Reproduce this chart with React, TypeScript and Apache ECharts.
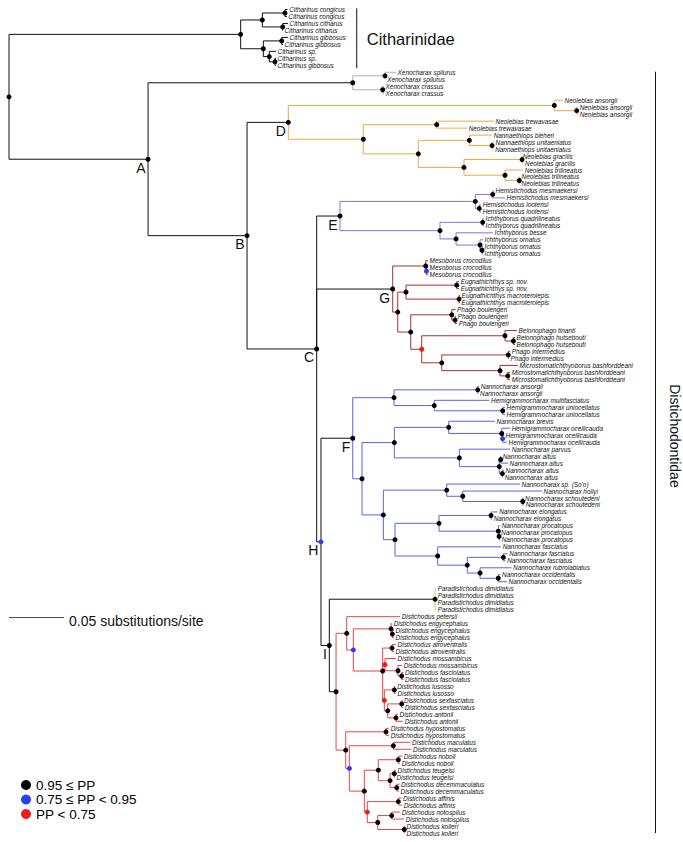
import React, { useEffect, useRef } from "react";
import * as echarts from "echarts";

const FONT = "'Liberation Sans', Arial, Helvetica, sans-serif";

// ---- tree data (depth in substitutions/site from the root) ----
// internal nodes: [id, parent, depth, support class]
const internalNodes: [string, string, number, string][] = [
  ["root", "", 0, "hi"],
  ["cit", "root", 0.2106, "hi"],
  ["cit1", "cit", 0.2303, "hi"],
  ["citCong", "cit1", 0.2509, "hi"],
  ["citCith", "cit1", 0.2488, "hi"],
  ["cit2", "cit", 0.2312, "hi"],
  ["citGibb", "cit2", 0.2479, "hi"],
  ["citSp", "cit2", 0.2366, "hi"],
  ["citSp2", "citSp", 0.2418, "hi"],
  ["A", "root", 0.1264, "hi"],
  ["xeno", "A", 0.3125, "hi"],
  ["xenoSpil", "xeno", 0.3418, "hi"],
  ["xenoCras", "xeno", 0.3397, "hi"],
  ["B", "A", 0.2164, "hi"],
  ["D", "B", 0.2539, "hi"],
  ["neoAns", "D", 0.4957, "hi"],
  ["neoAns2", "neoAns", 0.5161, "hi"],
  ["D2", "D", 0.3221, "hi"],
  ["neoTrew", "D2", 0.3888, "hi"],
  ["D3", "D2", 0.3721, "hi"],
  ["nanna", "D3", 0.4185, "hi"],
  ["nannaUni", "nanna", 0.4391, "hi"],
  ["D4", "D3", 0.4136, "hi"],
  ["neoGrac", "D4", 0.4664, "hi"],
  ["neoTril", "D4", 0.4509, "hi"],
  ["neoTril2", "neoTril", 0.4639, "hi"],
  ["C", "B", 0.2797, "hi"],
  ["E", "C", 0.3009, "hi"],
  ["hemi", "E", 0.4239, "hi"],
  ["hemiMes", "hemi", 0.4397, "hi"],
  ["hemiLoo", "hemi", 0.4275, "hi"],
  ["ichth", "E", 0.3918, "hi"],
  ["ichthQuad", "ichth", 0.4306, "hi"],
  ["ichth2", "ichth", 0.4064, "hi"],
  ["ichthOrn", "ichth2", 0.4282, "hi"],
  ["ichthOrn2", "ichthOrn", 0.43, "hi"],
  ["G", "C", 0.3488, "hi"],
  ["meso", "G", 0.3788, "hi"],
  ["meso2", "meso", 0.3795, "mid"],
  ["G2", "G", 0.3534, "hi"],
  ["eug", "G2", 0.3609, "hi"],
  ["eugSp", "eug", 0.407, "hi"],
  ["eugMac", "eug", 0.4091, "hi"],
  ["G3", "G2", 0.3652, "hi"],
  ["phagoB", "G3", 0.4025, "hi"],
  ["phagoB2", "phagoB", 0.4055, "hi"],
  ["G4", "G3", 0.3752, "lo"],
  ["belo", "G4", 0.4509, "hi"],
  ["belo2", "belo", 0.4585, "hi"],
  ["G5", "G4", 0.3934, "hi"],
  ["phagoI", "G5", 0.4539, "hi"],
  ["micro", "G5", 0.4464, "hi"],
  ["micro2", "micro", 0.4534, "hi"],
  ["H", "C", 0.2836, "mid"],
  ["F", "H", 0.3125, "hi"],
  ["F1", "F", 0.35, "hi"],
  ["nanAns", "F1", 0.4261, "hi"],
  ["F1b", "F1", 0.3866, "hi"],
  ["hemUni", "F1b", 0.4488, "hi"],
  ["F2", "F", 0.3209, "hi"],
  ["F3", "F2", 0.3503, "hi"],
  ["F3a", "F3", 0.3997, "hi"],
  ["hemOce", "F3a", 0.4479, "hi"],
  ["hemOce2", "hemOce", 0.4487, "mid"],
  ["F3b", "F3", 0.4094, "hi"],
  ["alt", "F3b", 0.4457, "hi"],
  ["alt1", "alt", 0.447, "hi"],
  ["alt2", "alt", 0.4485, "hi"],
  ["F4", "F2", 0.3403, "hi"],
  ["F5", "F4", 0.3979, "hi"],
  ["F5b", "F5", 0.4125, "hi"],
  ["schout", "F5b", 0.467, "hi"],
  ["F6", "F4", 0.3509, "hi"],
  ["F6a", "F6", 0.3909, "hi"],
  ["elong", "F6a", 0.4382, "hi"],
  ["proc", "F6a", 0.4448, "hi"],
  ["proc2", "proc", 0.4455, "hi"],
  ["F6b", "F6", 0.3897, "hi"],
  ["F6c", "F6b", 0.4166, "hi"],
  ["fasc", "F6c", 0.4494, "hi"],
  ["F6d", "F6c", 0.4282, "hi"],
  ["occ", "F6d", 0.4448, "hi"],
  ["I", "H", 0.2912, "hi"],
  ["para", "I", 0.3873, "hi"],
  ["I2", "I", 0.2973, "hi"],
  ["DA", "I2", 0.307, "hi"],
  ["DA2", "DA", 0.313, "mid"],
  ["engy", "DA2", 0.3473, "hi"],
  ["engy2", "engy", 0.3485, "hi"],
  ["DA3", "DA2", 0.3397, "hi"],
  ["atro", "DA3", 0.3482, "hi"],
  ["X1", "DA3", 0.3418, "lo"],
  ["mossF", "X1", 0.3536, "hi"],
  ["fasciol", "mossF", 0.357, "hi"],
  ["X2", "DA3", 0.3412, "lo"],
  ["luso", "X2", 0.3503, "hi"],
  ["sexAnt", "X2", 0.3443, "hi"],
  ["sexf", "sexAnt", 0.357, "hi"],
  ["anto", "sexAnt", 0.3518, "hi"],
  ["DB", "I2", 0.3061, "hi"],
  ["hypo", "DB", 0.3427, "hi"],
  ["DB2", "DB", 0.3094, "mid"],
  ["macu", "DB2", 0.3494, "hi"],
  ["DB3", "DB2", 0.323, "hi"],
  ["DB4", "DB3", 0.3357, "hi"],
  ["nobo", "DB4", 0.3539, "hi"],
  ["DB4b", "DB4", 0.3464, "hi"],
  ["teug", "DB4b", 0.3503, "hi"],
  ["decem", "DB4b", 0.3525, "hi"],
  ["DB5", "DB3", 0.3257, "lo"],
  ["affi", "DB5", 0.3539, "hi"],
  ["DB6", "DB5", 0.3352, "hi"],
  ["noto", "DB6", 0.3479, "hi"],
  ["koll", "DB6", 0.3594, "hi"],
];

// leaves in plotting order: [name, parent, tip depth]
const leaves: [string, string, number][] = [
  ["Citharinus congicus", "citCong", 0.2532],
  ["Citharinus congicus", "citCong", 0.2527],
  ["Citharinus citharus", "citCith", 0.2536],
  ["Citharinus citharus", "citCith", 0.2491],
  ["Citharinus gibbosus", "citGibb", 0.2536],
  ["Citharinus gibbosus", "citGibb", 0.2491],
  ["Citharinus sp.", "citSp", 0.2427],
  ["Citharinus sp.", "citSp2", 0.2427],
  ["Citharinus gibbosus", "citSp2", 0.2427],
  ["Xenocharax spilurus", "xenoSpil", 0.3518],
  ["Xenocharax spilurus", "xenoSpil", 0.3423],
  ["Xenocharax crassus", "xenoCras", 0.3409],
  ["Xenocharax crassus", "xenoCras", 0.3409],
  ["Neolebias ansorgii", "neoAns", 0.5036],
  ["Neolebias ansorgii", "neoAns2", 0.5173],
  ["Neolebias ansorgii", "neoAns2", 0.5173],
  ["Neolebias trewavasae", "neoTrew", 0.4409],
  ["Neolebias trewavasae", "neoTrew", 0.4164],
  ["Nannaethiops bleheri", "nanna", 0.4391],
  ["Nannaethiops unitaeniatus", "nannaUni", 0.4409],
  ["Nannaethiops unitaeniatus", "nannaUni", 0.4405],
  ["Neolebias gracilis", "neoGrac", 0.4655],
  ["Neolebias gracilis", "neoGrac", 0.4677],
  ["Neolebias trilineatus", "neoTril", 0.4673],
  ["Neolebias trilineatus", "neoTril2", 0.4645],
  ["Neolebias trilineatus", "neoTril2", 0.4645],
  ["Hemistichodus mesmaekersi", "hemiMes", 0.4409],
  ["Hemistichodus mesmaekersi", "hemiMes", 0.4509],
  ["Hemistichodus lootensi", "hemiLoo", 0.4291],
  ["Hemistichodus lootensi", "hemiLoo", 0.4291],
  ["Ichthyborus quadrilineatus", "ichthQuad", 0.4318],
  ["Ichthyborus quadrilineatus", "ichthQuad", 0.4318],
  ["Ichthyborus besse", "ichth2", 0.44],
  ["Ichthyborus ornatus", "ichthOrn", 0.4309],
  ["Ichthyborus ornatus", "ichthOrn2", 0.4309],
  ["Ichthyborus ornatus", "ichthOrn2", 0.4309],
  ["Mesoborus crocodilus", "meso", 0.3809],
  ["Mesoborus crocodilus", "meso2", 0.3809],
  ["Mesoborus crocodilus", "meso2", 0.3809],
  ["Eugnathichthys sp. nov.", "eugSp", 0.4091],
  ["Eugnathichthys sp. nov.", "eugSp", 0.4091],
  ["Eugnathichthys macroterolepis", "eugMac", 0.41],
  ["Eugnathichthys macroterolepis", "eugMac", 0.41],
  ["Phago boulengeri", "phagoB", 0.4059],
  ["Phago boulengeri", "phagoB2", 0.4064],
  ["Phago boulengeri", "phagoB2", 0.4073],
  ["Belonophago tinanti", "belo", 0.4618],
  ["Belonophago hutsebouti", "belo2", 0.46],
  ["Belonophago hutsebouti", "belo2", 0.46],
  ["Phago intermedius", "phagoI", 0.4555],
  ["Phago intermedius", "phagoI", 0.4545],
  ["Microstomatichthyoborus bashforddeani", "micro", 0.4627],
  ["Microstomatichthyoborus bashforddeani", "micro2", 0.4555],
  ["Microstomatichthyoborus bashforddeani", "micro2", 0.4555],
  ["Nannocharax ansorgii", "nanAns", 0.4273],
  ["Nannocharax ansorgii", "nanAns", 0.4268],
  ["Hemigrammocharax multifasciatus", "F1b", 0.4368],
  ["Hemigrammocharax uniocellatus", "hemUni", 0.4509],
  ["Hemigrammocharax uniocellatus", "hemUni", 0.4509],
  ["Nannocharax brevis", "F3a", 0.4418],
  ["Hemigrammocharax ocellicauda", "hemOce", 0.4555],
  ["Hemigrammocharax ocellicauda", "hemOce2", 0.45],
  ["Hemigrammocharax ocellicauda", "hemOce2", 0.4527],
  ["Nannocharax parvus", "F3b", 0.4555],
  ["Nannocharax altus", "alt1", 0.4473],
  ["Nannocharax altus", "alt1", 0.4536],
  ["Nannocharax altus", "alt2", 0.45],
  ["Nannocharax altus", "alt2", 0.4491],
  ["Nannocharax sp. (So'o)", "F5", 0.4645],
  ["Nannocharax hollyi", "F5b", 0.4845],
  ["Nannocharax schoutedeni", "schout", 0.4677],
  ["Nannocharax schoutedeni", "schout", 0.4682],
  ["Nannocharax elongatus", "elong", 0.4441],
  ["Nannocharax elongatus", "elong", 0.4391],
  ["Nannocharax procatopus", "proc", 0.4464],
  ["Nannocharax procatopus", "proc2", 0.4459],
  ["Nannocharax procatopus", "proc2", 0.4464],
  ["Nannocharax fasciatus", "F6b", 0.4473],
  ["Nannocharax fasciatus", "fasc", 0.4532],
  ["Nannocharax fasciatus", "fasc", 0.4514],
  ["Nannocharax rubrolabiatus", "F6d", 0.4568],
  ["Nannocharax occidentalis", "occ", 0.4468],
  ["Nannocharax occidentalis", "occ", 0.4527],
  ["Paradistichodus dimidiatus", "para", 0.3882],
  ["Paradistichodus dimidiatus", "para", 0.3882],
  ["Paradistichodus dimidiatus", "para", 0.3882],
  ["Paradistichodus dimidiatus", "para", 0.3882],
  ["Distichodus petersii", "DA", 0.3555],
  ["Distichodus engycephalus", "engy", 0.3482],
  ["Distichodus engycephalus", "engy2", 0.35],
  ["Distichodus engycephalus", "engy2", 0.35],
  ["Distichodus atroventralis", "atro", 0.3518],
  ["Distichodus atroventralis", "atro", 0.35],
  ["Distichodus mossambicus", "X1", 0.3518],
  ["Distichodus mossambicus", "mossF", 0.3573],
  ["Distichodus fasciolatus", "fasciol", 0.3586],
  ["Distichodus fasciolatus", "fasciol", 0.3586],
  ["Distichodus lusosso", "luso", 0.3514],
  ["Distichodus lusosso", "luso", 0.3518],
  ["Distichodus sexfasciatus", "sexf", 0.3577],
  ["Distichodus sexfasciatus", "sexf", 0.3582],
  ["Distichodus antonii", "anto", 0.3536],
  ["Distichodus antonii", "anto", 0.3582],
  ["Distichodus hypostomatus", "hypo", 0.3455],
  ["Distichodus hypostomatus", "hypo", 0.3455],
  ["Distichodus maculatus", "macu", 0.365],
  ["Distichodus maculatus", "macu", 0.3659],
  ["Distichodus noboli", "nobo", 0.3573],
  ["Distichodus noboli", "nobo", 0.3555],
  ["Distichodus teugelsi", "teug", 0.3518],
  ["Distichodus teugelsi", "teug", 0.3509],
  ["Distichodus decemmaculatus", "decem", 0.355],
  ["Distichodus decemmaculatus", "decem", 0.3545],
  ["Distichodus affinis", "affi", 0.3568],
  ["Distichodus affinis", "affi", 0.3573],
  ["Distichodus notospilus", "noto", 0.3555],
  ["Distichodus notospilus", "noto", 0.3591],
  ["Distichodus kolleri", "koll", 0.36],
  ["Distichodus kolleri", "koll", 0.36],
];

// clade colouring (applies to all branches below the clade node)
const cladeColors: [string, string][] = [
  ["xeno", "#aab3b3"],
  ["D", "#f5a640"],
  ["E", "#8a6fe2"],
  ["G", "#a8302e"],
  ["F", "#5467de"],
  ["para", "#9fe56f"],
  ["I2", "#e84646"],
];
const backboneColor = "#111111";

// labelled clade nodes
const cladeLetters: string[] = ["A", "B", "C", "D", "E", "F", "G", "H", "I"];

// support classes
const supportClasses: string[] = ["hi", "mid", "lo"];
const supportNames: string[] = ["0.95 \u2264 PP", "0.75 \u2264 PP < 0.95", "PP < 0.75"];
const supportColors: string[] = ["#000000", "#2b3ef2", "#f01a1a"];

// family brackets: [name, x (subst.), first leaf idx, last leaf idx, label y idx, rotated]
const families: [string, number, number, number, number, number][] = [
  ["Citharinidae", 0.3161, -0.17, 8.42, 4.2, 0],
  ["Distichodontidae", 0.5877, 8.91, 118, 61.1, 1],
];

// scale bar: [start, length, y position (leaf idx)]
const scaleBar: number[] = [0, 0.05, 87.13];
const scaleLabel = "0.05 substitutions/site";

function buildTree() {
  const children: Record<string, { leaf: boolean; key: any }[]> = {};
  const depth: Record<string, number> = {};
  const parentOf: Record<string, string> = {};
  const support: Record<string, string> = {};
  internalNodes.forEach(([id, p, d, s]) => {
    children[id] = [];
    depth[id] = d;
    parentOf[id] = p;
    support[id] = s;
  });
  internalNodes.forEach(([id, p]) => {
    if (p) children[p].push({ leaf: false, key: id });
  });
  leaves.forEach(([, p], i) => children[p].push({ leaf: true, key: i }));
  const y: Record<string, number> = {};
  const getY = (id: string): number => {
    if (y[id] !== undefined) return y[id];
    const ch = children[id];
    const v = ch.reduce((s, c) => s + (c.leaf ? (c.key as number) : getY(c.key as string)), 0) / ch.length;
    y[id] = v;
    return v;
  };
  internalNodes.forEach(([id]) => getY(id));
  const cmap: Record<string, string> = Object.fromEntries(cladeColors);
  const colorOf = (id: string): string =>
    cmap[id] !== undefined ? cmap[id] : parentOf[id] ? colorOf(parentOf[id]) : backboneColor;
  const palette: string[] = [backboneColor, ...cladeColors.map((c) => c[1])];
  const branches: number[][] = [];
  internalNodes.forEach(([id, p]) => {
    if (!p) return;
    branches.push([depth[p], y[p], depth[id], y[id], palette.indexOf(colorOf(p))]);
  });
  leaves.forEach(([, p, d], i) => {
    branches.push([depth[p], y[p], d, i, palette.indexOf(colorOf(p))]);
  });
  branches.sort((a, b) => (a[4] === 0 ? 0 : 1) - (b[4] === 0 ? 0 : 1));
  return { depth, y, support, palette, branches };
}

export default function App() {
  const ref = useRef<HTMLDivElement>(null);
  useEffect(() => {
    if (!ref.current) return;
    const chart = echarts.init(ref.current, undefined, { renderer: "svg" });
    const { depth, y, support, palette, branches } = buildTree();

    const nodeSeries = supportClasses.map((cls, k) => ({
      type: "scatter",
      name: supportNames[k],
      symbol: "circle",
      symbolSize: 5,
      z: 5,
      silent: true,
      itemStyle: { color: supportColors[k], opacity: 1 },
      data: internalNodes.filter(([id]) => support[id] === cls).map(([id]) => [depth[id], y[id]]),
    }));

    chart.setOption({
      animation: false,
      textStyle: { fontFamily: FONT },
      grid: { left: 9, top: 9.5, width: 674, height: 823.5 },
      xAxis: { type: "value", min: 0, max: 0.6127, show: false },
      yAxis: { type: "value", min: 0, max: 118, inverse: true, show: false },
      legend: {
        data: supportNames,
        orient: "vertical",
        left: 21,
        top: 778,
        padding: 0,
        itemWidth: 10,
        itemHeight: 10,
        itemGap: 0.5,
        icon: "circle",
        selectedMode: false,
        textStyle: { fontSize: 13.5, color: "#000", fontFamily: FONT, lineHeight: 12 },
      },
      series: [
        {
          type: "custom",
          name: "branches",
          silent: true,
          z: 2,
          data: branches,
          renderItem: (params: any, api: any) => {
            const p = api.coord([api.value(0), api.value(1)]);
            const m = api.coord([api.value(0), api.value(3)]);
            const c = api.coord([api.value(2), api.value(3)]);
            return {
              type: "polyline",
              shape: { points: [p, m, c] },
              style: { stroke: palette[api.value(4)], fill: null, lineWidth: 1 },
            };
          },
        },
        ...nodeSeries,
        {
          type: "custom",
          name: "leafLabels",
          silent: true,
          z: 4,
          data: leaves.map(([, , d], i) => [d, i]),
          renderItem: (params: any, api: any) => {
            const c = api.coord([api.value(0), api.value(1)]);
            return {
              type: "text",
              x: c[0] + 1.6,
              y: c[1],
              style: {
                text: leaves[params.dataIndex][0],
                fill: "#111",
                fontSize: 6.4,
                fontStyle: "italic",
                fontFamily: FONT,
                align: "left",
                verticalAlign: "middle",
              },
            };
          },
        },
        {
          type: "custom",
          name: "cladeLetters",
          silent: true,
          z: 4,
          data: cladeLetters.map((l) => [depth[l], y[l]]),
          renderItem: (params: any, api: any) => {
            const c = api.coord([api.value(0), api.value(1)]);
            return {
              type: "text",
              x: c[0] - 2.5,
              y: c[1] + 1.5,
              style: {
                text: cladeLetters[params.dataIndex],
                fill: "#111",
                fontSize: 14,
                fontFamily: FONT,
                align: "right",
                verticalAlign: "top",
              },
            };
          },
        },
        {
          type: "custom",
          name: "families",
          silent: true,
          z: 4,
          data: families.map((f) => [f[1], f[2], f[3], f[4], f[5]]),
          renderItem: (params: any, api: any) => {
            const a = api.coord([api.value(0), api.value(1)]);
            const b = api.coord([api.value(0), api.value(2)]);
            const t = api.coord([api.value(0), api.value(3)]);
            const rot = api.value(4) === 1;
            return {
              type: "group",
              children: [
                {
                  type: "line",
                  shape: { x1: a[0], y1: a[1], x2: b[0], y2: b[1] },
                  style: { stroke: "#111", lineWidth: 1 },
                },
                {
                  type: "text",
                  x: rot ? t[0] + 19.5 : t[0] + 10,
                  y: t[1],
                  rotation: rot ? -Math.PI / 2 : 0,
                  style: {
                    text: families[params.dataIndex][0],
                    fill: "#111",
                    fontSize: rot ? 14 : 16.5,
                    fontFamily: FONT,
                    align: rot ? "center" : "left",
                    verticalAlign: "middle",
                  },
                },
              ],
            };
          },
        },
        {
          type: "custom",
          name: "scaleBar",
          silent: true,
          z: 4,
          data: [scaleBar],
          renderItem: (params: any, api: any) => {
            const a = api.coord([api.value(0), api.value(2)]);
            const b = api.coord([api.value(0) + api.value(1), api.value(2)]);
            return {
              type: "group",
              children: [
                {
                  type: "line",
                  shape: { x1: a[0], y1: a[1], x2: b[0], y2: b[1] },
                  style: { stroke: "#444", lineWidth: 1 },
                },
                {
                  type: "text",
                  x: b[0] + 5,
                  y: b[1] + 3,
                  style: {
                    text: scaleLabel,
                    fill: "#111",
                    fontSize: 14,
                    fontFamily: FONT,
                    align: "left",
                    verticalAlign: "middle",
                  },
                },
              ],
            };
          },
        },
      ],
    });
    return () => chart.dispose();
  }, []);
  return (
    <div
      ref={ref}
      style={{ position: "fixed", left: 0, top: 0, width: 683, height: 842, background: "#fff" }}
    />
  );
}
